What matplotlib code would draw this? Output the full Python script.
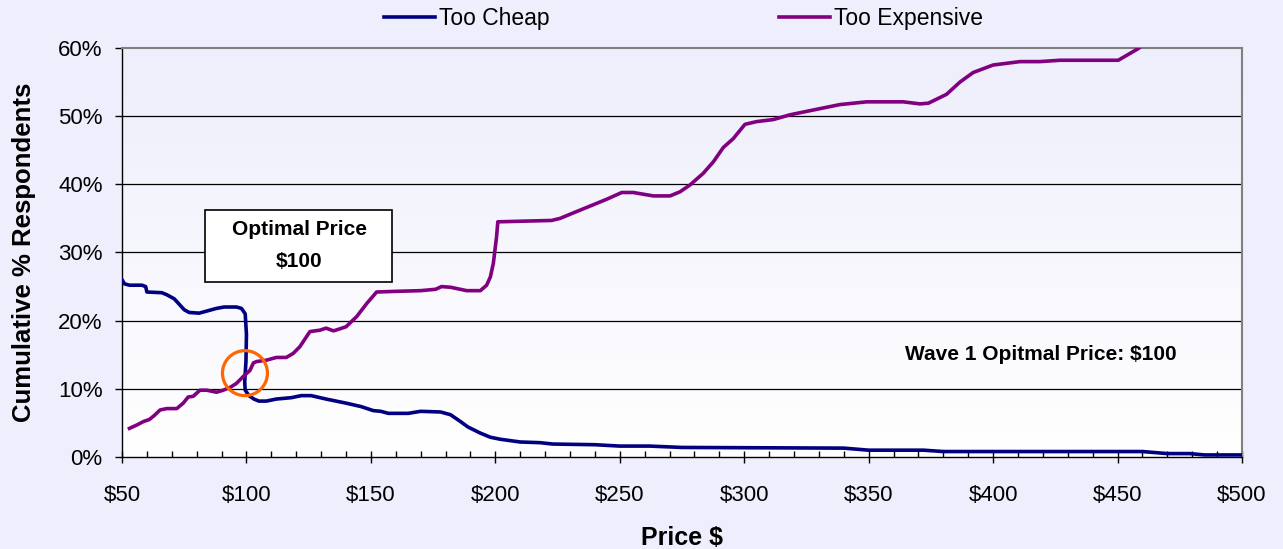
import numpy as np
import matplotlib
matplotlib.use('Agg')
import matplotlib.pyplot as plt
import matplotlib.ticker as ticker
from matplotlib.patches import Ellipse, Rectangle

plt.rcParams['font.family'] = ['Liberation Sans', 'DejaVu Sans']

# price points ($) and cumulative % of respondents
cheap_price = [50, 51, 53, 58, 59.5, 60, 66, 68, 71, 73, 75, 77, 81, 84, 88, 91, 96, 98,
               99.5, 100, 99.8, 99.3, 99.5, 101, 103, 105, 108, 112, 118, 122, 126, 132,
               140, 146, 151, 154, 157, 165, 170, 178, 182, 186, 189, 194, 198, 202, 210,
               218, 223, 240, 250, 262, 275, 340, 350, 372, 380, 460, 470, 479, 485, 500]
cheap_pct = [26.0, 25.4, 25.2, 25.2, 25.0, 24.2, 24.1, 23.8, 23.2, 22.4, 21.6, 21.2, 21.1,
             21.4, 21.8, 22.0, 22.0, 21.8, 21.0, 18.0, 14.0, 11.0, 9.8, 9.0, 8.5, 8.2, 8.2,
             8.5, 8.7, 9.0, 9.0, 8.5, 7.9, 7.4, 6.8, 6.7, 6.4, 6.4, 6.7, 6.6, 6.2, 5.2, 4.4,
             3.5, 2.9, 2.6, 2.2, 2.1, 1.9, 1.8, 1.6, 1.6, 1.4, 1.3, 1.0, 1.0, 0.8, 0.8, 0.5,
             0.5, 0.3, 0.3]

exp_price = [53, 56, 58.6, 61, 63, 65.3, 68, 72, 74.6, 76.6, 78.6, 81.3, 84, 88, 90.7, 93.4,
             96, 98.7, 101.4, 102.8, 104.1, 108, 112, 116, 118.8, 121.5, 125.5, 129.5, 132,
             135, 140, 144.3, 148.3, 152.3, 160, 170, 176, 178.4, 182, 188.5, 194, 196.5,
             198, 199.2, 200.5, 201, 222.6, 226, 231.3, 244.7, 250.8, 255.4, 263.5, 270.2,
             274.2, 278.2, 283.5, 287.6, 291.6, 295.6, 300.3, 305, 311.7, 318.4, 330.4,
             338.5, 349.2, 363.9, 370.6, 374, 381.3, 386.7, 392, 400, 410.8, 418.8, 426.9,
             450.3, 458.3, 462]
exp_pct = [4.2, 4.7, 5.2, 5.5, 6.1, 6.9, 7.1, 7.1, 7.9, 8.8, 8.9, 9.8, 9.8, 9.5, 9.8, 10.2,
           10.8, 11.8, 12.7, 13.8, 14.0, 14.2, 14.6, 14.6, 15.2, 16.2, 18.4, 18.6, 18.9,
           18.5, 19.1, 20.6, 22.5, 24.2, 24.3, 24.4, 24.6, 25.0, 24.9, 24.4, 24.4, 25.2,
           26.4, 28.4, 32.3, 34.5, 34.7, 35.0, 35.8, 37.8, 38.8, 38.8, 38.3, 38.3, 38.9,
           39.9, 41.6, 43.3, 45.4, 46.7, 48.8, 49.2, 49.5, 50.2, 51.1, 51.7, 52.1, 52.1,
           51.8, 51.9, 53.2, 55.0, 56.4, 57.5, 58.0, 58.0, 58.2, 58.2, 59.9, 61.0]

x_ticks = [50, 100, 150, 200, 250, 300, 350, 400, 450, 500]
x_tick_labels = ['$50', '$100', '$150', '$200', '$250', '$300', '$350', '$400', '$450', '$500']
y_ticks = [0, 10, 20, 30, 40, 50, 60]
y_tick_labels = ['0%', '10%', '20%', '30%', '40%', '50%', '60%']

optimal_price = 99.4
optimal_pct = 12.3

bg = '#EEEEFC'
fig = plt.figure(figsize=(12.83, 5.49), dpi=100, facecolor=bg)
ax = fig.add_axes([0.0951, 0.1676, 0.968 - 0.0951, 0.9126 - 0.1676])

# gradient background of the plot area
grad = np.linspace(0, 1, 256).reshape(-1, 1)
cmap = matplotlib.colors.LinearSegmentedColormap.from_list('bgfade', ['#FFFFFF', '#EEEEFC'])
ax.imshow(grad, extent=(50, 500, 0, 60), origin='lower', aspect='auto', cmap=cmap, zorder=0)

ax.plot(cheap_price, cheap_pct, color='#000080', lw=2.6, label='Too Cheap', zorder=3,
        solid_joinstyle='round')
ax.plot(exp_price, exp_pct, color='#800080', lw=2.6, label='Too Expensive', zorder=3,
        solid_joinstyle='round')

ax.set_xlim(50, 500)
ax.set_ylim(0, 60)

for y in y_ticks[1:-1]:
    ax.axhline(y, color='black', lw=0.9, zorder=1)

ax.set_xticks(x_ticks)
ax.set_xticklabels(x_tick_labels)
ax.xaxis.set_minor_locator(ticker.MultipleLocator(10))
ax.set_yticks(y_ticks)
ax.set_yticklabels(y_tick_labels)

ax.tick_params(axis='x', which='major', direction='inout', length=9, width=1, pad=16,
               labelsize=16)
ax.tick_params(axis='x', which='minor', direction='in', length=4, width=1)
ax.tick_params(axis='y', which='major', direction='out', length=5, width=1, pad=9,
               labelsize=16)

for s in ['left', 'bottom']:
    ax.spines[s].set_color('black')
    ax.spines[s].set_linewidth(1.0)
for s in ['top', 'right']:
    ax.spines[s].set_color('#808080')
    ax.spines[s].set_linewidth(1.5)

ax.set_xlabel('Price $', fontsize=18, fontweight='bold', labelpad=14)
ax.set_ylabel('Cumulative % Respondents', fontsize=18.5, fontweight='bold', labelpad=16)

# optimal price box
ax.add_patch(Rectangle((83.4, 25.6), 75.2, 10.7, facecolor='white', edgecolor='black',
                       lw=1.2, zorder=5))
ax.text(121.3, 33.3, 'Optimal Price', ha='center', va='center', fontsize=15,
        fontweight='bold', zorder=6)
ax.text(121.3, 28.7, '$100', ha='center', va='center', fontsize=15,
        fontweight='bold', zorder=6)

# circle round the crossing point
circ = Ellipse((optimal_price, optimal_pct), width=45 / 2.489, height=45 / 6.817,
               fill=False, edgecolor='#FF6600', lw=2.3, zorder=4)
ax.add_patch(circ)

ax.text(419.3, 15, 'Wave 1 Opitmal Price: $100', ha='center', va='center', fontsize=15,
        fontweight='bold', zorder=5)

fig.legend(loc='center', bbox_to_anchor=(0.533, 0.967), ncol=2, frameon=False,
           fontsize=16.5, handlelength=2.2, handletextpad=0.2, columnspacing=10.0)

fig.savefig('out.png', dpi=100, facecolor=bg)
